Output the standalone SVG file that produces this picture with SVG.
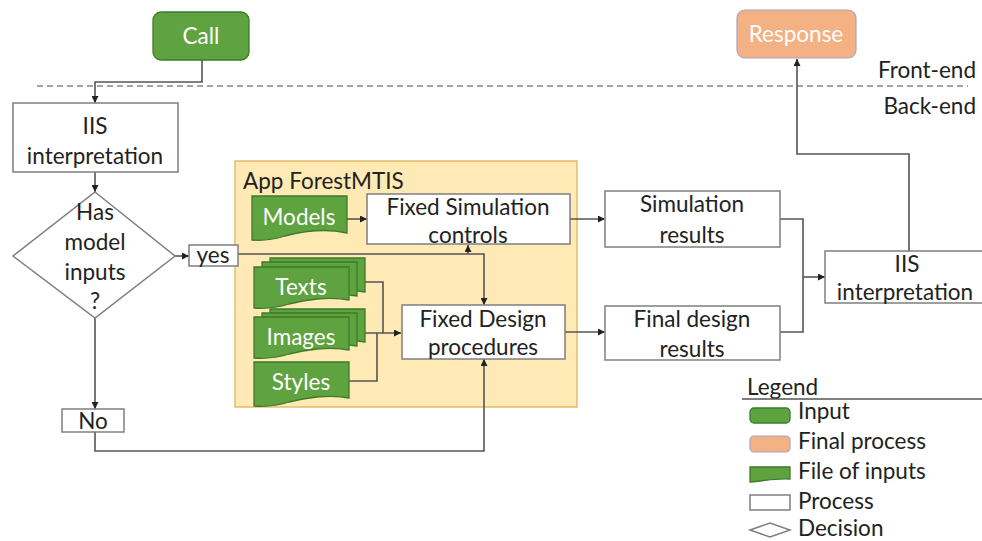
<svg xmlns="http://www.w3.org/2000/svg" width="982" height="541" viewBox="0 0 982 541">
<defs>
<marker id="arr" viewBox="0 0 10 10" refX="10" refY="5" markerWidth="7" markerHeight="7" markerUnits="userSpaceOnUse" orient="auto">
<path d="M0,0 L10,5 L0,10 Z" fill="#222"/>
</marker>
<style>
text{font-family:Lato,"Open Sans","Liberation Sans",sans-serif;font-size:22.5px;fill:#222;}
.w{fill:#fff;}
.c{text-anchor:middle;}
.proc{fill:#fff;stroke:#7f7f7f;stroke-width:1.5;}
.green{fill:#5ea33f;stroke:#3e7a28;stroke-width:1.3;}
.orange{fill:#f4b183;stroke:#a6a6c0;stroke-width:1.2;}
.con{fill:none;stroke:#555;stroke-width:1.6;}
</style>
</defs>
<rect width="982" height="541" fill="#fff"/>

<line x1="37" y1="86" x2="968" y2="86" stroke="#888" stroke-width="1.3" stroke-dasharray="6,4"/>
<text x="976" y="78" text-anchor="end">Front-end</text>
<text x="976" y="114" text-anchor="end">Back-end</text>

<g id="app">
<rect x="235" y="161" width="342" height="246" fill="#ffe9b5" stroke="#e3be6b" stroke-width="1.5"/>
<text x="243" y="189">App ForestMTIS</text>
</g>

<g id="connectors">
<path class="con" d="M202,60 V82 H95 V103" marker-end="url(#arr)"/>
<path class="con" d="M95,172 V192" marker-end="url(#arr)"/>
<path class="con" d="M175,256 H189" marker-end="url(#arr)"/>
<path class="con" d="M238,254 H484 V305" marker-end="url(#arr)"/>
<path class="con" d="M468,254 V245" marker-end="url(#arr)"/>
<path class="con" d="M95,318 V409" marker-end="url(#arr)"/>
<path class="con" d="M95,432 V451 H484 V359" marker-end="url(#arr)"/>
<path class="con" d="M347,219 H367" marker-end="url(#arr)"/>
<path class="con" d="M363,282 H383 V333"/>
<path class="con" d="M363,333 H401" marker-end="url(#arr)"/>
<path class="con" d="M349,381 H377 V333"/>
<path class="con" d="M570,219 H605" marker-end="url(#arr)"/>
<path class="con" d="M565,332 H605" marker-end="url(#arr)"/>
<path class="con" d="M780,219 H803 V332 H780"/>
<path class="con" d="M803,277 H825" marker-end="url(#arr)"/>
<path class="con" d="M909,251 V154 H797 V59" marker-end="url(#arr)"/>
</g>

<g id="call">
<rect x="153" y="12" width="96" height="48" rx="8" class="green"/>
<text x="201" y="44" class="c w">Call</text>
</g>

<g id="response">
<rect x="737" y="10" width="119" height="48" rx="8" class="orange"/>
<text x="796" y="42" class="c w">Response</text>
</g>

<g id="iis1">
<rect x="13" y="103" width="165" height="69" class="proc"/>
<text x="95" y="134" class="c">IIS</text>
<text x="95" y="164" class="c">interpretation</text>
</g>

<g id="decision">
<polygon points="95,192 175,256 95,318 13,256" class="proc"/>
<text x="95" y="220" class="c">Has</text>
<text x="95" y="250" class="c">model</text>
<text x="95" y="280" class="c">inputs</text>
<text x="95" y="309" class="c">?</text>
</g>

<g id="yes">
<rect x="189" y="245" width="49" height="21" class="proc"/>
<text x="213" y="263" class="c">yes</text>
</g>

<g id="no">
<rect x="62" y="409" width="62" height="23" class="proc"/>
<text x="93" y="429" class="c">No</text>
</g>

<g id="models">
<path class="green" d="M252,196 H347 V233 C325,228 300,232 285,236 C272,240 262,241 252,240 Z"/>
<text x="299" y="225" class="c w">Models</text>
</g>

<g id="texts">
<path class="green" d="M270,258 H365 V292 C345,288 320,292 305,296 C292,300 282,301 270,300 Z"/>
<path class="green" d="M262,262 H357 V296 C337,292 312,296 297,300 C284,304 274,305 262,304 Z"/>
<path class="green" d="M254,267 H349 V300 C329,296 304,300 289,304 C276,308 266,309 254,308 Z"/>
<text x="301" y="295" class="c w">Texts</text>
</g>

<g id="images">
<path class="green" d="M270,309 H365 V342 C345,338 320,342 305,346 C292,350 282,351 270,350 Z"/>
<path class="green" d="M262,313 H357 V346 C337,342 312,346 297,350 C284,354 274,355 262,354 Z"/>
<path class="green" d="M254,317 H349 V350 C329,346 304,350 289,354 C276,358 266,359 254,358 Z"/>
<text x="301" y="345" class="c w">Images</text>
</g>

<g id="styles">
<path class="green" d="M254,362 H349 V398 C329,394 304,398 289,402 C276,406 266,407 254,406 Z"/>
<text x="301" y="390" class="c w">Styles</text>
</g>

<g id="fixedsim">
<rect x="367" y="194" width="203" height="50" class="proc"/>
<text x="468" y="215" class="c">Fixed Simulation</text>
<text x="468" y="243" class="c">controls</text>
</g>

<g id="fixeddesign">
<rect x="402" y="305" width="163" height="54" class="proc"/>
<text x="483" y="327" class="c">Fixed Design</text>
<text x="483" y="355" class="c">procedures</text>
</g>

<g id="simresults">
<rect x="605" y="191" width="175" height="56" class="proc"/>
<text x="692" y="212" class="c">Simulation</text>
<text x="692" y="243" class="c">results</text>
</g>

<g id="finalresults">
<rect x="605" y="306" width="175" height="54" class="proc"/>
<text x="692" y="327" class="c">Final design</text>
<text x="692" y="357" class="c">results</text>
</g>

<g id="iis2">
<rect x="825" y="251" width="160" height="52" class="proc"/>
<text x="907" y="272" class="c">IIS</text>
<text x="905" y="300" class="c">interpretation</text>
</g>

<g id="legend">
<text x="747" y="395">Legend</text>
<line x1="742" y1="399" x2="982" y2="399" stroke="#555" stroke-width="1.3"/>
<rect x="750" y="408" width="40" height="15" rx="4" class="green"/>
<text x="798" y="419">Input</text>
<rect x="750" y="436" width="40" height="16" rx="4" class="orange"/>
<text x="798" y="449">Final process</text>
<path class="green" d="M750,467 H790 V479 C775,478 765,481 750,482 Z"/>
<text x="798" y="479">File of inputs</text>
<rect x="750" y="495" width="40" height="15" class="proc" stroke-width="1"/>
<text x="798" y="509">Process</text>
<polygon points="750,530 770,523 790,530 770,537" class="proc" stroke-width="1"/>
<text x="798" y="536">Decision</text>
</g>
</svg>
